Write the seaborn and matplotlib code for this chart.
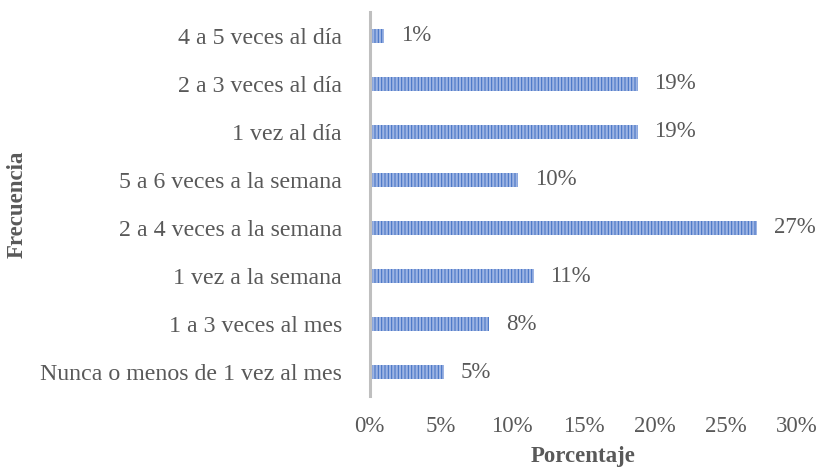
import numpy as np
import pandas as pd
import matplotlib.pyplot as plt
import seaborn as sns

sns.set_style("white")
plt.rcParams['font.family'] = ['Liberation Serif', 'DejaVu Serif']
plt.rcParams['hatch.linewidth'] = 0.75

_fontsize = 16.5
_gris = "#595959"

categorias = ["4 a 5 veces al día", "2 a 3 veces al día", "1 vez al día",
              "5 a 6 veces a la semana", "2 a 4 veces a la semana",
              "1 vez a la semana", "1 a 3 veces al mes",
              "Nunca o menos de 1 vez al mes"]
porcentajes = [1.0, 18.8, 18.8, 10.4, 27.2, 11.5, 8.4, 5.2]
etiquetas = ["1%", "19%", "19%", "10%", "27%", "11%", "8%", "5%"]
ticks_x = [0, 5, 10, 15, 20, 25, 30]

df = pd.DataFrame({"Frecuencia": categorias, "Porcentaje": porcentajes})

fig = plt.figure(figsize=(8.27, 4.71), dpi=100)
ax = fig.add_axes([0.447, 0.159, 0.517, 0.816])

sns.barplot(data=df, y="Frecuencia", x="Porcentaje", orient="h",
            color="#9DB4E3", width=0.3, ax=ax, saturation=1)

for p in ax.patches:
    p.set_hatch("|||||")
    p.set_edgecolor("#4472C4")
    p.set_linewidth(0)

ax.bar_label(ax.containers[0], labels=etiquetas, padding=12, fontsize=_fontsize, color=_gris)

ax.set_xlim(0, 30)
ax.set_ylim(7.5, -0.5)
ax.set_xticks(ticks_x)
ax.set_xticklabels([f"{t}%" for t in ticks_x])
ax.tick_params(axis='x', length=0, pad=14, labelsize=_fontsize, labelcolor=_gris)
ax.tick_params(axis='y', length=0, pad=20, labelsize=17.2, labelcolor=_gris)

for s in ["top", "right", "bottom"]:
    ax.spines[s].set_visible(False)
ax.spines["left"].set_color("#BFBFBF")
ax.spines["left"].set_linewidth(2.2)

ax.set_xlabel("Porcentaje", fontsize=_fontsize, fontweight="bold", color=_gris)
ax.set_ylabel("Frecuencia", fontsize=_fontsize, fontweight="bold", color=_gris)
ax.xaxis.set_label_coords(0.5, -0.13)
ax.yaxis.set_label_coords(-0.80, 0.5)

plt.savefig("out.png", dpi=100)
